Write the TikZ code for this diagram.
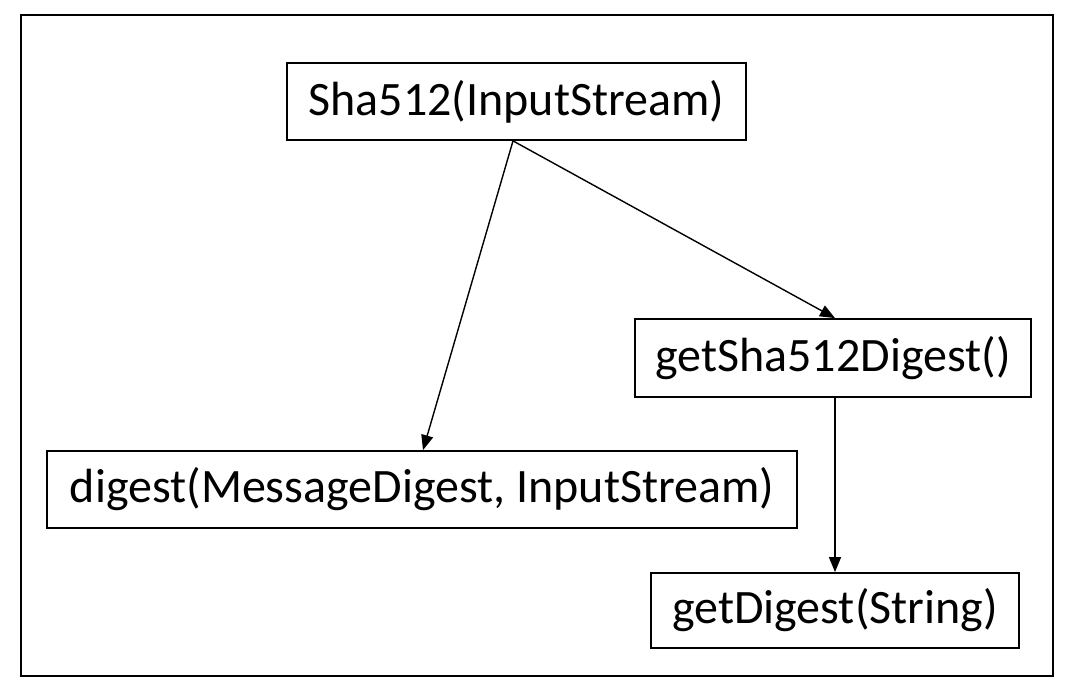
\documentclass[tikz,border=0pt]{standalone}
\usepackage{fontspec}
\setmainfont{Carlito}
\usetikzlibrary{arrows.meta}
\begin{document}
\begin{tikzpicture}[x=1pt,y=1pt,
  fn/.style={draw=black,line width=1.8pt,inner sep=0pt,font=\fontsize{48}{56}\selectfont,anchor=center},
  conn/.style={line width=1.4pt,-{Triangle[length=15pt,width=12pt]}}]
\useasboundingbox (0,0) rectangle (1076,688);
\draw[line width=2.2pt] (21,12) rectangle (1053,673);
\node[fn,minimum width=459pt,minimum height=77pt] (sha) at (516.5,586.5) {Sha512(InputStream)};
\node[fn,minimum width=396pt,minimum height=78pt] (gsd) at (833,330) {getSha512Digest()};
\node[fn,minimum width=750pt,minimum height=77pt] (dig) at (422,198.5) {digest(MessageDigest, InputStream)};
\node[fn,minimum width=368pt,minimum height=75pt] (gd) at (835,77.5) {getDigest(String)};
\coordinate (s) at ([xshift=-3.5pt]sha.south);
\draw[conn] (s) -- ([xshift=1pt]dig.north);
\draw[conn] (s) -- ([xshift=2pt]gsd.north);
\draw[conn] ([xshift=2pt]gsd.south) -- (gd.north);
\end{tikzpicture}
\end{document}
